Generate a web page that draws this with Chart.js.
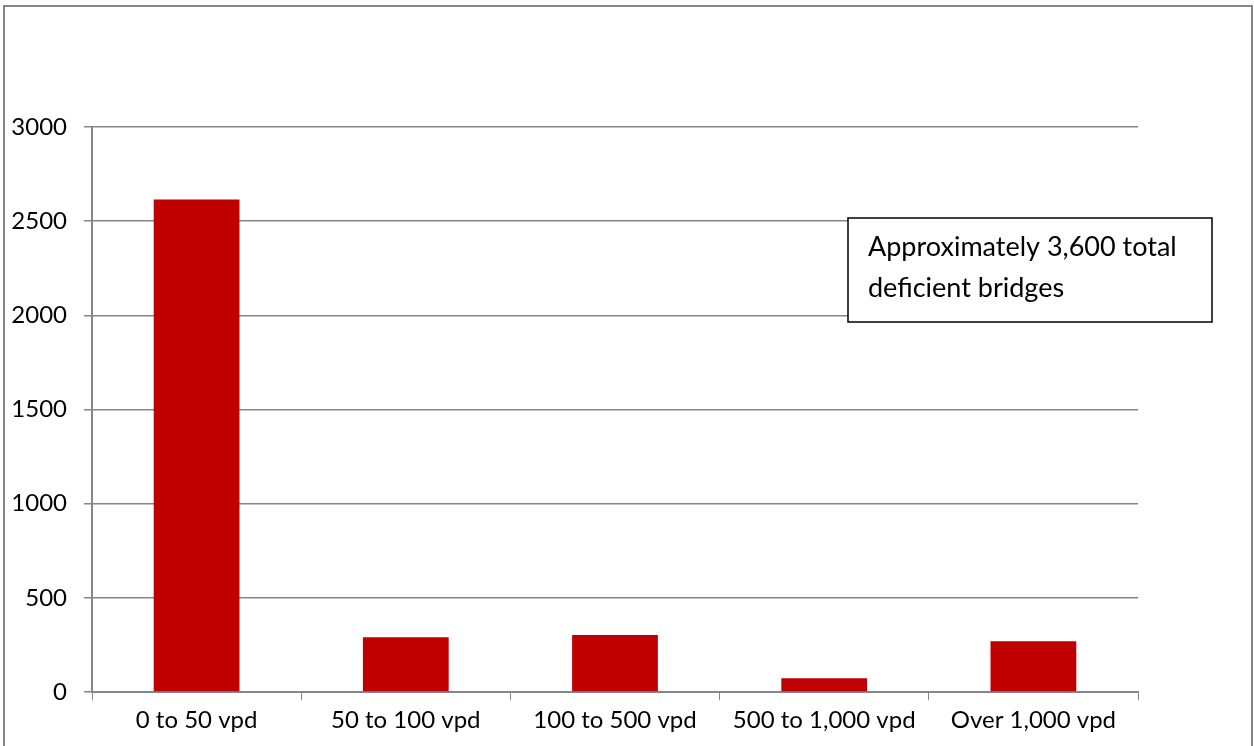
<!DOCTYPE html>
<html>
<head>
<meta charset="utf-8">
<script src="https://cdn.jsdelivr.net/npm/chart.js@4/dist/chart.umd.min.js"></script>
<style>
  html, body { margin: 0; padding: 0; background: #ffffff; }
  #wrap { width: 1254px; height: 746px; position: relative; }
</style>
</head>
<body>
<div id="wrap"><canvas id="c" width="1254" height="746"></canvas></div>
<script>
// Deficient bridges grouped by average daily traffic (vehicles per day)
const categories = ['0 to 50 vpd', '50 to 100 vpd', '100 to 500 vpd', '500 to 1,000 vpd', 'Over 1,000 vpd'];
const bridgeCounts = [2615, 291, 303, 73, 270];
const yTicks = [0, 500, 1000, 1500, 2000, 2500, 3000];
const noteLines = ['Approximately 3,600 total', 'deficient bridges'];

const FONT = 'Lato, "Open Sans", sans-serif';
const GRID = '#868686';

// Outer frame around the whole chart
const framePlugin = {
  id: 'frame',
  beforeDraw(chart) {
    const ctx = chart.ctx;
    ctx.save();
    ctx.fillStyle = '#ffffff';
    ctx.fillRect(0, 0, chart.width, chart.height);
    ctx.strokeStyle = GRID;
    ctx.lineWidth = 2;
    ctx.strokeRect(4, 6, chart.width - 6, chart.height + 10);
    ctx.restore();
  }
};

// Text box with the total count
const notePlugin = {
  id: 'note',
  afterDraw(chart) {
    const ctx = chart.ctx;
    const x = 848, y = 218, w = 364, h = 104;
    ctx.save();
    ctx.fillStyle = '#ffffff';
    ctx.fillRect(x, y, w, h);
    ctx.strokeStyle = '#000000';
    ctx.lineWidth = 1.5;
    ctx.strokeRect(x, y, w, h);
    ctx.fillStyle = '#000000';
    ctx.font = '27px ' + FONT;
    ctx.textBaseline = 'alphabetic';
    ctx.textAlign = 'left';
    noteLines.forEach((t, i) => ctx.fillText(t, x + 20, y + 38 + i * 41));
    ctx.restore();
  }
};

new Chart(document.getElementById('c'), {
  type: 'bar',
  data: {
    labels: categories,
    datasets: [{
      data: bridgeCounts,
      backgroundColor: '#C00000',
      borderWidth: 0,
      categoryPercentage: 1,
      barPercentage: 0.41
    }]
  },
  options: {
    responsive: false,
    animation: false,
    devicePixelRatio: 1,
    layout: { padding: { left: 0, right: 116, top: 127, bottom: 0 } },
    plugins: { legend: { display: false }, tooltip: { enabled: false } },
    scales: {
      x: {
        afterFit(s) { s.height = 54; },
        grid: { drawOnChartArea: false, drawTicks: true, tickLength: 8, color: GRID, offset: true },
        border: { color: GRID, width: 2 },
        ticks: { color: '#000000', font: { family: FONT, size: 24 }, padding: 6, maxRotation: 0 }
      },
      y: {
        min: 0, max: 3000,
        afterFit(s) { s.width = 92; },
        afterBuildTicks(s) { s.ticks = yTicks.map(v => ({ value: v })); },
        grid: { color: GRID, lineWidth: 1.5, tickLength: 8 },
        border: { color: GRID, width: 2 },
        ticks: {
          color: '#000000', font: { family: FONT, size: 24 }, padding: 17,
          callback: v => String(v)
        }
      }
    }
  },
  plugins: [framePlugin, notePlugin]
});
</script>
</body>
</html>
